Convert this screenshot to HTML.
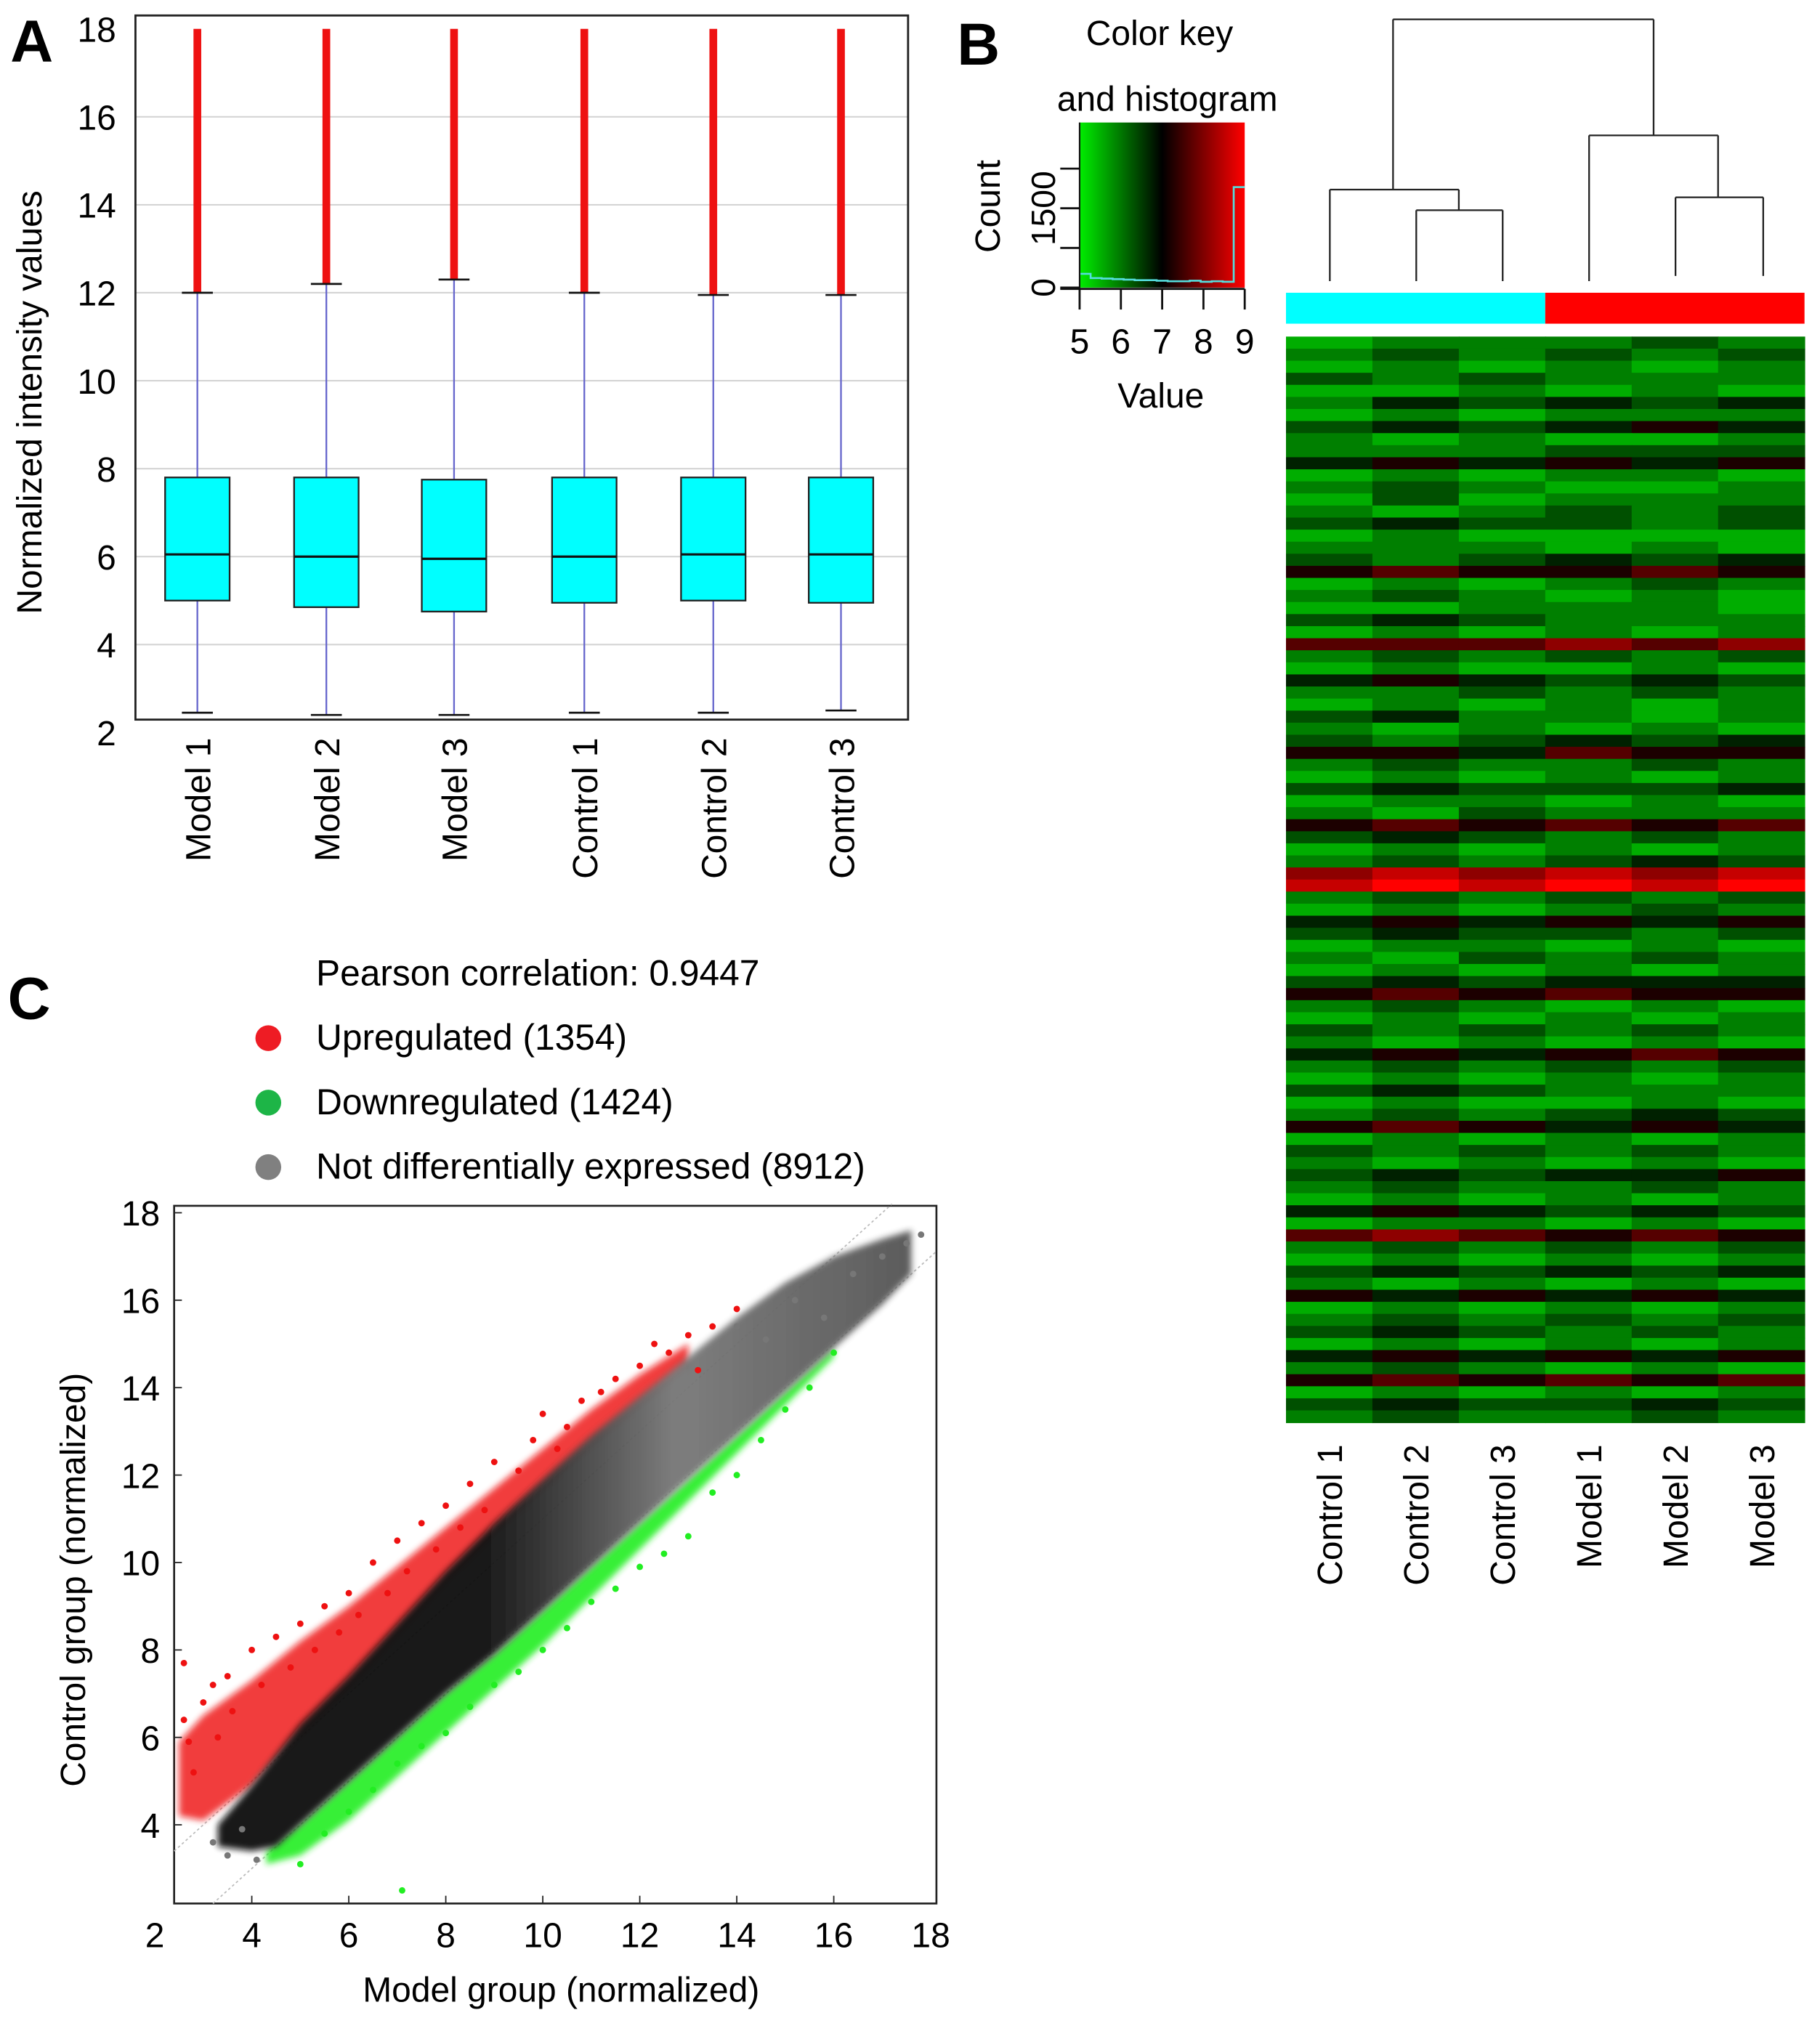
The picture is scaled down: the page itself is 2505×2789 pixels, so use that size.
<!DOCTYPE html>
<html><head><meta charset="utf-8"><style>
html,body{margin:0;padding:0;background:#fff}
svg{display:block;font-family:"Liberation Sans",Arial,sans-serif}
</style></head><body>
<svg id="fig" width="2505" height="2789" viewBox="0 0 1411 1571" xmlns="http://www.w3.org/2000/svg">
<defs>
<linearGradient id="ck" x1="0" x2="1" y1="0" y2="0">
<stop offset="0" stop-color="#00ee00"/><stop offset="0.5" stop-color="#000"/><stop offset="1" stop-color="#ff0000"/></linearGradient>
<linearGradient id="bg" gradientUnits="userSpaceOnUse" x1="380" x2="700" y1="0" y2="0">
<stop offset="0" stop-color="#111"/><stop offset="0.45" stop-color="#777"/><stop offset="1" stop-color="#555"/></linearGradient>
<filter id="soft" x="-5%" y="-5%" width="110%" height="110%"><feGaussianBlur stdDeviation="2.5"/></filter>
</defs>
<text x="8" y="48" font-size="46" font-weight="bold">A</text>
<text x="742" y="50" font-size="46" font-weight="bold">B</text>
<text x="6" y="790" font-size="46" font-weight="bold">C</text>
<g id="pa"></g>
<g id="pb"></g>
<g id="pc"></g>
</svg>
<script>
const NS="http://www.w3.org/2000/svg";
function el(p,t,a,txt){const e=document.createElementNS(NS,t);for(const k in a)e.setAttribute(k,a[k]);if(txt!==undefined)e.textContent=txt;p.appendChild(e);return e;}

// ---------- Panel A data ----------
const samplesA=["Model 1","Model 2","Model 3","Control 1","Control 2","Control 3"];
const lowerA=[2.45,2.4,2.4,2.45,2.45,2.5];
const q1A=[5.0,4.85,4.75,4.95,5.0,4.95];
const medA=[6.05,6.0,5.95,6.0,6.05,6.05];
const q3A=[7.8,7.8,7.75,7.8,7.8,7.8];
const upperA=[12.0,12.2,12.3,12.0,11.95,11.95];
const maxA=[18,18,18,18,18,18];
const ticksA=[2,4,6,8,10,12,14,16,18];

// ---------- Panel B data ----------
const colsB=["Control 1","Control 2","Control 3","Model 1","Model 2","Model 3"];
const keyTicks=[5,6,7,8,9];
const histVals=[260,180,170,160,150,140,140,130,120,120,130,110,120,110,1900];
const rowsB=["122232","232323","121212","323222","112121","243434","121222","343454","212112","222333","454545","121221","232112","131222","212323","343323","121111","222121","323434","565565",
"121232","232121","112221","343222","121212","666767","232323","121121","454343","223232","121212","342212","212121","323434","554655","232232","121212","343334","122121","213222",
"565656","343232","121212","232343","787878","898989","232323","121232","454545","343323","122121","213232","121212","343444","565655","232121","121212","323232","212121","454565",
"232323","121212","343222","121121","232343","565454","121212","323232","212121","343445","232232","121212","454343","122121","676565","232323","121212","343434","212121","545454",
"121212","232323","343232","121212","454545","232121","565656","121212","343343","232232"];

// ---------- Panel C data ----------
const bandX=[3.3,4,4.5,5,6,7,8,9,10,11,12,13,14,15,16,17,17.6];
const blackLow=[3.5,3.4,3.5,4.0,5.0,6.0,7.0,7.9,8.9,9.9,10.9,11.9,12.9,13.9,14.9,15.9,16.6];
const blackHigh=[4.0,4.9,5.6,6.3,7.4,8.6,9.8,10.9,11.9,12.9,13.8,14.7,15.6,16.4,17.0,17.4,17.6];
const redX=[2.5,3,4,5,6,7,8,9,10,11,12,13];
const redLow=[4.2,4.1,4.9,6.1,7.2,8.4,9.6,10.7,11.7,12.7,13.6,14.5];
const redHigh=[5.9,6.5,7.3,8.2,9.0,9.9,10.8,11.7,12.6,13.5,14.3,15.0];
const greenX=[4.3,5,6,7,8,9,10,11,12,13,14,15,16];
const greenHigh=[3.4,4.0,5.0,6.0,7.0,7.9,8.9,9.9,10.9,11.9,12.9,13.9,14.9];
const greenLow=[3.1,3.3,4.1,5.1,6.1,7.1,8.1,9.2,10.3,11.4,12.5,13.6,14.7];
const redPtsX=[2.6,2.6,2.7,2.8,3.0,3.2,3.3,3.5,3.6,4.0,4.2,4.5,4.8,5.0,5.3,5.5,5.8,6.0,6.2,6.5,6.8,7.0,7.2,7.5,7.8,8.0,8.3,8.5,8.8,9.0,9.5,9.8,10.0,10.3,10.5,10.8,11.2,11.5,12.0,12.3,12.6,13.0,13.2,13.5,14.0];
const redPtsY=[7.7,6.4,5.9,5.2,6.8,7.2,6.0,7.4,6.6,8.0,7.2,8.3,7.6,8.6,8.0,9.0,8.4,9.3,8.8,10.0,9.3,10.5,9.8,10.9,10.3,11.3,10.8,11.8,11.2,12.3,12.1,12.8,13.4,12.6,13.1,13.7,13.9,14.2,14.5,15.0,14.8,15.2,14.4,15.4,15.8];
const greenPtsX=[5.0,5.5,6.0,6.5,7.0,7.1,7.5,8.0,8.5,9.0,9.5,10.0,10.5,11.0,11.5,12.0,12.5,13.0,13.5,14.0,14.5,15.0,15.5,16.0];
const greenPtsY=[3.1,3.8,4.3,4.8,5.4,2.5,5.8,6.1,6.7,7.2,7.5,8.0,8.5,9.1,9.4,9.9,10.2,10.6,11.6,12.0,12.8,13.5,14.0,14.8];
const grayPtsX=[3.2,3.5,3.8,4.1,14,14.6,15.2,15.8,16.4,17.0,17.5,17.8];
const grayPtsY=[3.6,3.3,3.9,3.2,15.4,15.1,16.0,15.6,16.6,17.0,17.3,17.5];
const ticksC=[2,4,6,8,10,12,14,16,18];

// ---------- Draw A ----------
(function(){
const g=document.getElementById('pa');
const Y=v=>568-(v-2)*34.1;
const xs=[153,253,352,453,553,652];
ticksA.forEach(t=>{
 if(t>2&&t<18){const l=el(g,'line',{x1:105,x2:704,y1:Y(t),y2:Y(t),stroke:'#d4d4d4','stroke-width':1.2});}
 const tx=el(g,'text',{x:90,y:Y(t)+10,'font-size':27,'text-anchor':'end'},t);
 
});
const fr=el(g,'rect',{x:105,y:12,width:599,height:546,fill:'none',stroke:'#222','stroke-width':1.6});

const yt=el(g,'text',{transform:'translate(32,312) rotate(-90)','font-size':27,'text-anchor':'middle'},'Normalized intensity values');

samplesA.forEach((s,i)=>{
 const x=xs[i];
 const bx=el(g,'g',{});
 el(bx,'line',{x1:x,x2:x,y1:Y(maxA[i]),y2:Y(upperA[i]),stroke:'#ee1111','stroke-width':6});
 el(bx,'line',{x1:x,x2:x,y1:Y(upperA[i]),y2:Y(q3A[i]),stroke:'#6666cc','stroke-width':1.3});
 el(bx,'line',{x1:x,x2:x,y1:Y(q1A[i]),y2:Y(lowerA[i]),stroke:'#6666cc','stroke-width':1.3});
 el(bx,'line',{x1:x-12,x2:x+12,y1:Y(upperA[i]),y2:Y(upperA[i]),stroke:'#111','stroke-width':1.5});
 el(bx,'line',{x1:x-12,x2:x+12,y1:Y(lowerA[i]),y2:Y(lowerA[i]),stroke:'#111','stroke-width':1.5});
 el(bx,'rect',{x:x-25,y:Y(q3A[i]),width:50,height:Y(q1A[i])-Y(q3A[i]),fill:'#00ffff',stroke:'#222','stroke-width':1.3});
 el(bx,'line',{x1:x-25,x2:x+25,y1:Y(medA[i]),y2:Y(medA[i]),stroke:'#111','stroke-width':1.8});
 const t=el(g,'text',{transform:`translate(${x+10},572) rotate(-90)`,'font-size':27,'text-anchor':'end'},s);
 
});
})();

// ---------- Draw B ----------
(function(){
const g=document.getElementById('pb');
const t1=el(g,'text',{x:899,y:35,'font-size':27,'text-anchor':'middle'},'Color key');
const t2=el(g,'text',{x:905,y:86,'font-size':27,'text-anchor':'middle'},'and histogram');
const KX=v=>837+(v-5)*32, KY=c=>223-c*0.041;
const kr=el(g,'rect',{x:KX(5),y:95,width:128,height:128,fill:'url(#ck)'});
let d='';histVals.forEach((c,i)=>{const xa=KX(5+i*4/histVals.length),xb=KX(5+(i+1)*4/histVals.length);d+=(i?'L':'M')+xa+','+KY(c)+'L'+xb+','+KY(c);});
const hp=el(g,'path',{d:d,fill:'none',stroke:'#55dddd','stroke-width':1.5});
el(g,'line',{x1:KX(5),x2:KX(9),y1:224,y2:224,stroke:'#111','stroke-width':1.6});
el(g,'line',{x1:KX(5)-15,x2:KX(5),y1:224,y2:224,stroke:'#111','stroke-width':1.6});
[0,750,1500,2250].forEach(c=>el(g,'line',{x1:KX(5)-15,x2:KX(5),y1:KY(c),y2:KY(c),stroke:'#111','stroke-width':1.6}));
el(g,'line',{x1:KX(5),x2:KX(5),y1:95,y2:224,stroke:'#111','stroke-width':1.2});
[[0,'0'],[1500,'1500']].forEach(([c,s])=>{const t=el(g,'text',{transform:`translate(818,${KY(c)}) rotate(-90)`,'font-size':26,'text-anchor':'middle'},s);});
const ct=el(g,'text',{transform:'translate(775,160) rotate(-90)','font-size':27,'text-anchor':'middle'},'Count');
keyTicks.forEach(v=>{el(g,'line',{x1:KX(v),x2:KX(v),y1:224,y2:240,stroke:'#111','stroke-width':1.6});const t=el(g,'text',{x:KX(v),y:274,'font-size':27,'text-anchor':'middle'},v);});
const vt=el(g,'text',{x:900,y:316,'font-size':27,'text-anchor':'middle'},'Value');
const dg=el(g,'g',{fill:'none',stroke:'#222','stroke-width':1.3});
const lines=[[1031,218,1031,147],[1031,147,1131,147],[1131,147,1131,163],[1098,218,1098,163],[1098,163,1165,163],[1165,163,1165,218],[1080,147,1080,15],[1080,15,1282,15],[1282,15,1282,105],[1232,105,1332,105],[1232,105,1232,218],[1332,105,1332,153],[1299,153,1367,153],[1299,153,1299,214],[1367,153,1367,214]];
lines.forEach(l=>el(dg,'line',{x1:l[0],y1:l[1],x2:l[2],y2:l[3]}));
const cb=el(g,'rect',{x:997,y:227,width:201,height:24,fill:'#00ffff'});
const mb=el(g,'rect',{x:1198,y:227,width:201,height:24,fill:'#ff0000'});
const hx0=997,hw=402/6,hy0=261,hh=842/rowsB.length;
function col(v){const t=v/9;let r,gg;if(t<0.5){r=0;gg=Math.round(220*(1-t*2)+20*t);}else{r=Math.round(255*(t-0.5)*2);gg=0;}return `rgb(${r},${gg},0)`;}
const hm=el(g,'g',{});
rowsB.forEach((row,ri)=>{for(let c=0;c<6;c++){const r=el(hm,'rect',{x:hx0+c*hw,y:hy0+ri*hh,width:hw+0.5,height:hh+0.5,fill:col(+row[c])});}});
colsB.forEach((s,i)=>{const t=el(g,'text',{transform:`translate(${hx0+hw*(i+0.5)+10},1120) rotate(-90)`,'font-size':27,'text-anchor':'end'},s);});
})();

// ---------- Draw C ----------
(function(){
const g=document.getElementById('pc');
const X=v=>120+(v-2)*37.6, Y=v=>1415-(v-4)*33.9;
const lg=[['Pearson correlation: 0.9447',null,764],['Upregulated (1354)','#ee1c24',814],['Downregulated (1424)','#1db547',864],['Not differentially expressed (8912)','#808080',914]];
lg.forEach(([s,c,y])=>{const e=el(g,'g',{});if(c)el(e,'circle',{cx:208,cy:y-9,r:10,fill:c});el(e,'text',{x:245,y:y,'font-size':28},s);});
const fr=el(g,'rect',{x:135,y:935,width:591,height:541,fill:'none',stroke:'#222','stroke-width':1.5});
[[1],[-1]].forEach(([o])=>{const x0=o>0?2.4:3.2,x1=o>0?17.2:18.1;const l=el(g,'line',{x1:X(x0),y1:Y(x0+o),x2:X(x1),y2:Y(x1+o),stroke:'#bbb','stroke-width':1,'stroke-dasharray':'2,2'});});
function band(xs,lo,hi,fill,op,name){let d='';xs.forEach((x,i)=>d+=(i?'L':'M')+X(x)+','+Y(hi[i]));for(let i=xs.length-1;i>=0;i--)d+='L'+X(xs[i])+','+Y(lo[i]);const p=el(g,'path',{d:d+'Z',fill:fill,opacity:op,filter:'url(#soft)'});}
band(redX,redLow,redHigh,'#ee1111',0.8,'upregulated-cloud');
band(greenX,greenLow,greenHigh,'#22ee22',0.9,'downregulated-cloud');
band(bandX,blackLow,blackHigh,'url(#bg)',0.95,'not-de-cloud');
function pts(xs,ys,c,name){xs.forEach((x,i)=>{const p=el(g,'circle',{cx:X(x),cy:Y(ys[i]),r:2.5,fill:c});});}
pts(redPtsX,redPtsY,'#ee1111','upregulated-point');
pts(greenPtsX,greenPtsY,'#22ee22','downregulated-point');
pts(grayPtsX,grayPtsY,'#777','not-de-point');
ticksC.forEach(t=>{
 if(t>2){el(g,'line',{x1:135,x2:141,y1:Y(t),y2:Y(t),stroke:'#222'});const ty=el(g,'text',{x:124,y:Y(t)+10,'font-size':27,'text-anchor':'end'},t);}
 if(t>2&&t<18)el(g,'line',{x1:X(t),x2:X(t),y1:1476,y2:1470,stroke:'#222'});
 const tx=el(g,'text',{x:X(t),y:1510,'font-size':27,'text-anchor':'middle'},t);
});
const xt=el(g,'text',{x:435,y:1552,'font-size':27,'text-anchor':'middle'},'Model group (normalized)');
const yt=el(g,'text',{transform:'translate(66,1225) rotate(-90)','font-size':27,'text-anchor':'middle'},'Control group (normalized)');
})();
</script>
</body></html>
